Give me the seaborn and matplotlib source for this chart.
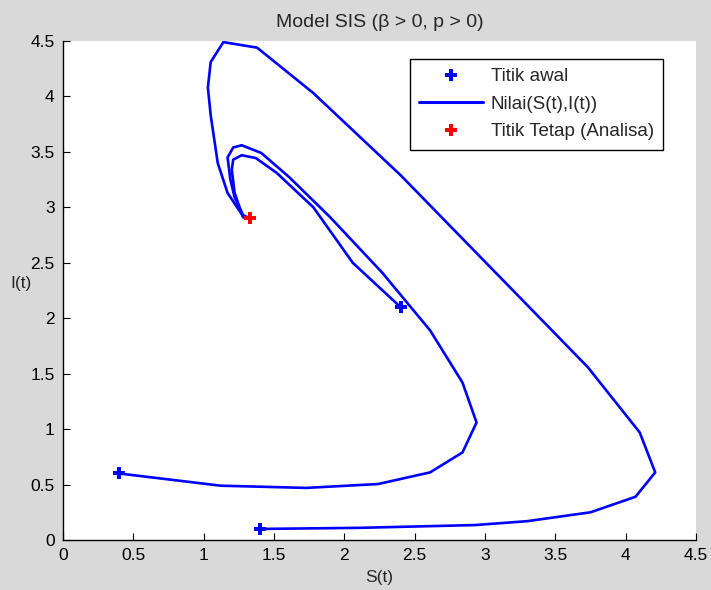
import seaborn as sns
import matplotlib.pyplot as plt
import pandas as pd
from matplotlib.lines import Line2D

sns.set_style("ticks")
plt.rcParams['font.family'] = ['Liberation Sans', 'DejaVu Sans']

# trajectory 1, start (1.4, 0.1)
s1 = [1.40, 2.11, 2.93, 3.30, 3.75, 4.07, 4.21, 4.10, 3.73, 2.40, 1.78, 1.38, 1.14,
      1.05, 1.03, 1.05, 1.10, 1.17, 1.28, 1.33]
i1 = [0.10, 0.11, 0.135, 0.17, 0.25, 0.39, 0.61, 0.97, 1.56, 3.29, 4.03, 4.44, 4.49,
      4.31, 4.08, 3.83, 3.40, 3.13, 2.92, 2.90]

# trajectory 2, start (0.4, 0.6)
s2 = [0.40, 1.12, 1.73, 2.24, 2.61, 2.84, 2.94, 2.84, 2.61, 2.27, 1.90, 1.61, 1.41,
      1.27, 1.21, 1.17, 1.19, 1.22, 1.28, 1.33]
i2 = [0.60, 0.49, 0.47, 0.505, 0.61, 0.79, 1.06, 1.42, 1.89, 2.41, 2.91, 3.27, 3.49,
      3.56, 3.54, 3.45, 3.25, 3.09, 2.93, 2.90]

# trajectory 3, start (2.4, 2.1)
s3 = [2.40, 2.06, 1.78, 1.52, 1.37, 1.27, 1.21, 1.20, 1.22, 1.28, 1.33]
i3 = [2.10, 2.50, 3.00, 3.31, 3.445, 3.47, 3.43, 3.34, 3.13, 2.91, 2.90]

start_s = [1.4, 0.4, 2.4]
start_i = [0.1, 0.6, 2.1]
fixed_s = [1.33]
fixed_i = [2.90]

rows = []
for k, (ss, ii) in enumerate([(s1, i1), (s2, i2), (s3, i3)]):
    for a, b in zip(ss, ii):
        rows.append({"S": a, "I": b, "traj": k})
df = pd.DataFrame(rows)

fig = plt.figure(figsize=(7.11, 5.90), dpi=100, facecolor='#d9d9d9')
ax = fig.add_axes([0.0886, 0.0847, 0.8903, 0.8458])
ax.set_facecolor('white')

sns.lineplot(data=df, x="S", y="I", units="traj", estimator=None, sort=False,
             color='blue', linewidth=1.9, ax=ax, legend=False)
sns.scatterplot(x=start_s, y=start_i, marker='P', s=75, color='blue', linewidth=0, ax=ax, zorder=3)
sns.scatterplot(x=fixed_s, y=fixed_i, marker='P', s=75, color='red', linewidth=0, ax=ax, zorder=3)

ax.set_xlim(0, 4.5)
ax.set_ylim(0, 4.5)
ticks = [0, 0.5, 1, 1.5, 2, 2.5, 3, 3.5, 4, 4.5]
ticklabels = ['0', '0.5', '1', '1.5', '2', '2.5', '3', '3.5', '4', '4.5']
ax.set_xticks(ticks)
ax.set_xticklabels(ticklabels)
ax.set_yticks(ticks)
ax.set_yticklabels(ticklabels)
ax.tick_params(direction='in', length=5, width=0.8, labelsize=12.5, colors='black', pad=6)
for side in ['top', 'right']:
    ax.spines[side].set_visible(False)
for side in ['left', 'bottom']:
    ax.spines[side].set_color('black')
    ax.spines[side].set_linewidth(1.0)

ax.set_xlabel('S(t)', fontsize=12.5, labelpad=5)
ax.set_ylabel('I(t)', fontsize=12.5, rotation=0, va='center', ha='center')
ax.yaxis.set_label_coords(-0.067, 0.515)
ax.set_title('Model SIS (β > 0, p > 0)', fontsize=14, pad=10)

handles = [
    Line2D([], [], color='blue', marker='P', linestyle='none', markersize=8, markeredgewidth=0),
    Line2D([], [], color='blue', linewidth=2.2),
    Line2D([], [], color='red', marker='P', linestyle='none', markersize=8, markeredgewidth=0),
]
leg = ax.legend(handles, ['Titik awal', 'Nilai(S(t),I(t))', 'Titik Tetap (Analisa)'],
                loc='upper right', bbox_to_anchor=(0.948, 0.964), borderaxespad=0,
                fontsize=13.5, fancybox=False, framealpha=1, edgecolor='black',
                handlelength=3.4, handletextpad=0.4, borderpad=0.5, labelspacing=0.55)
leg.get_frame().set_linewidth(1.0)

fig.savefig('out.png', dpi=100, facecolor=fig.get_facecolor())
